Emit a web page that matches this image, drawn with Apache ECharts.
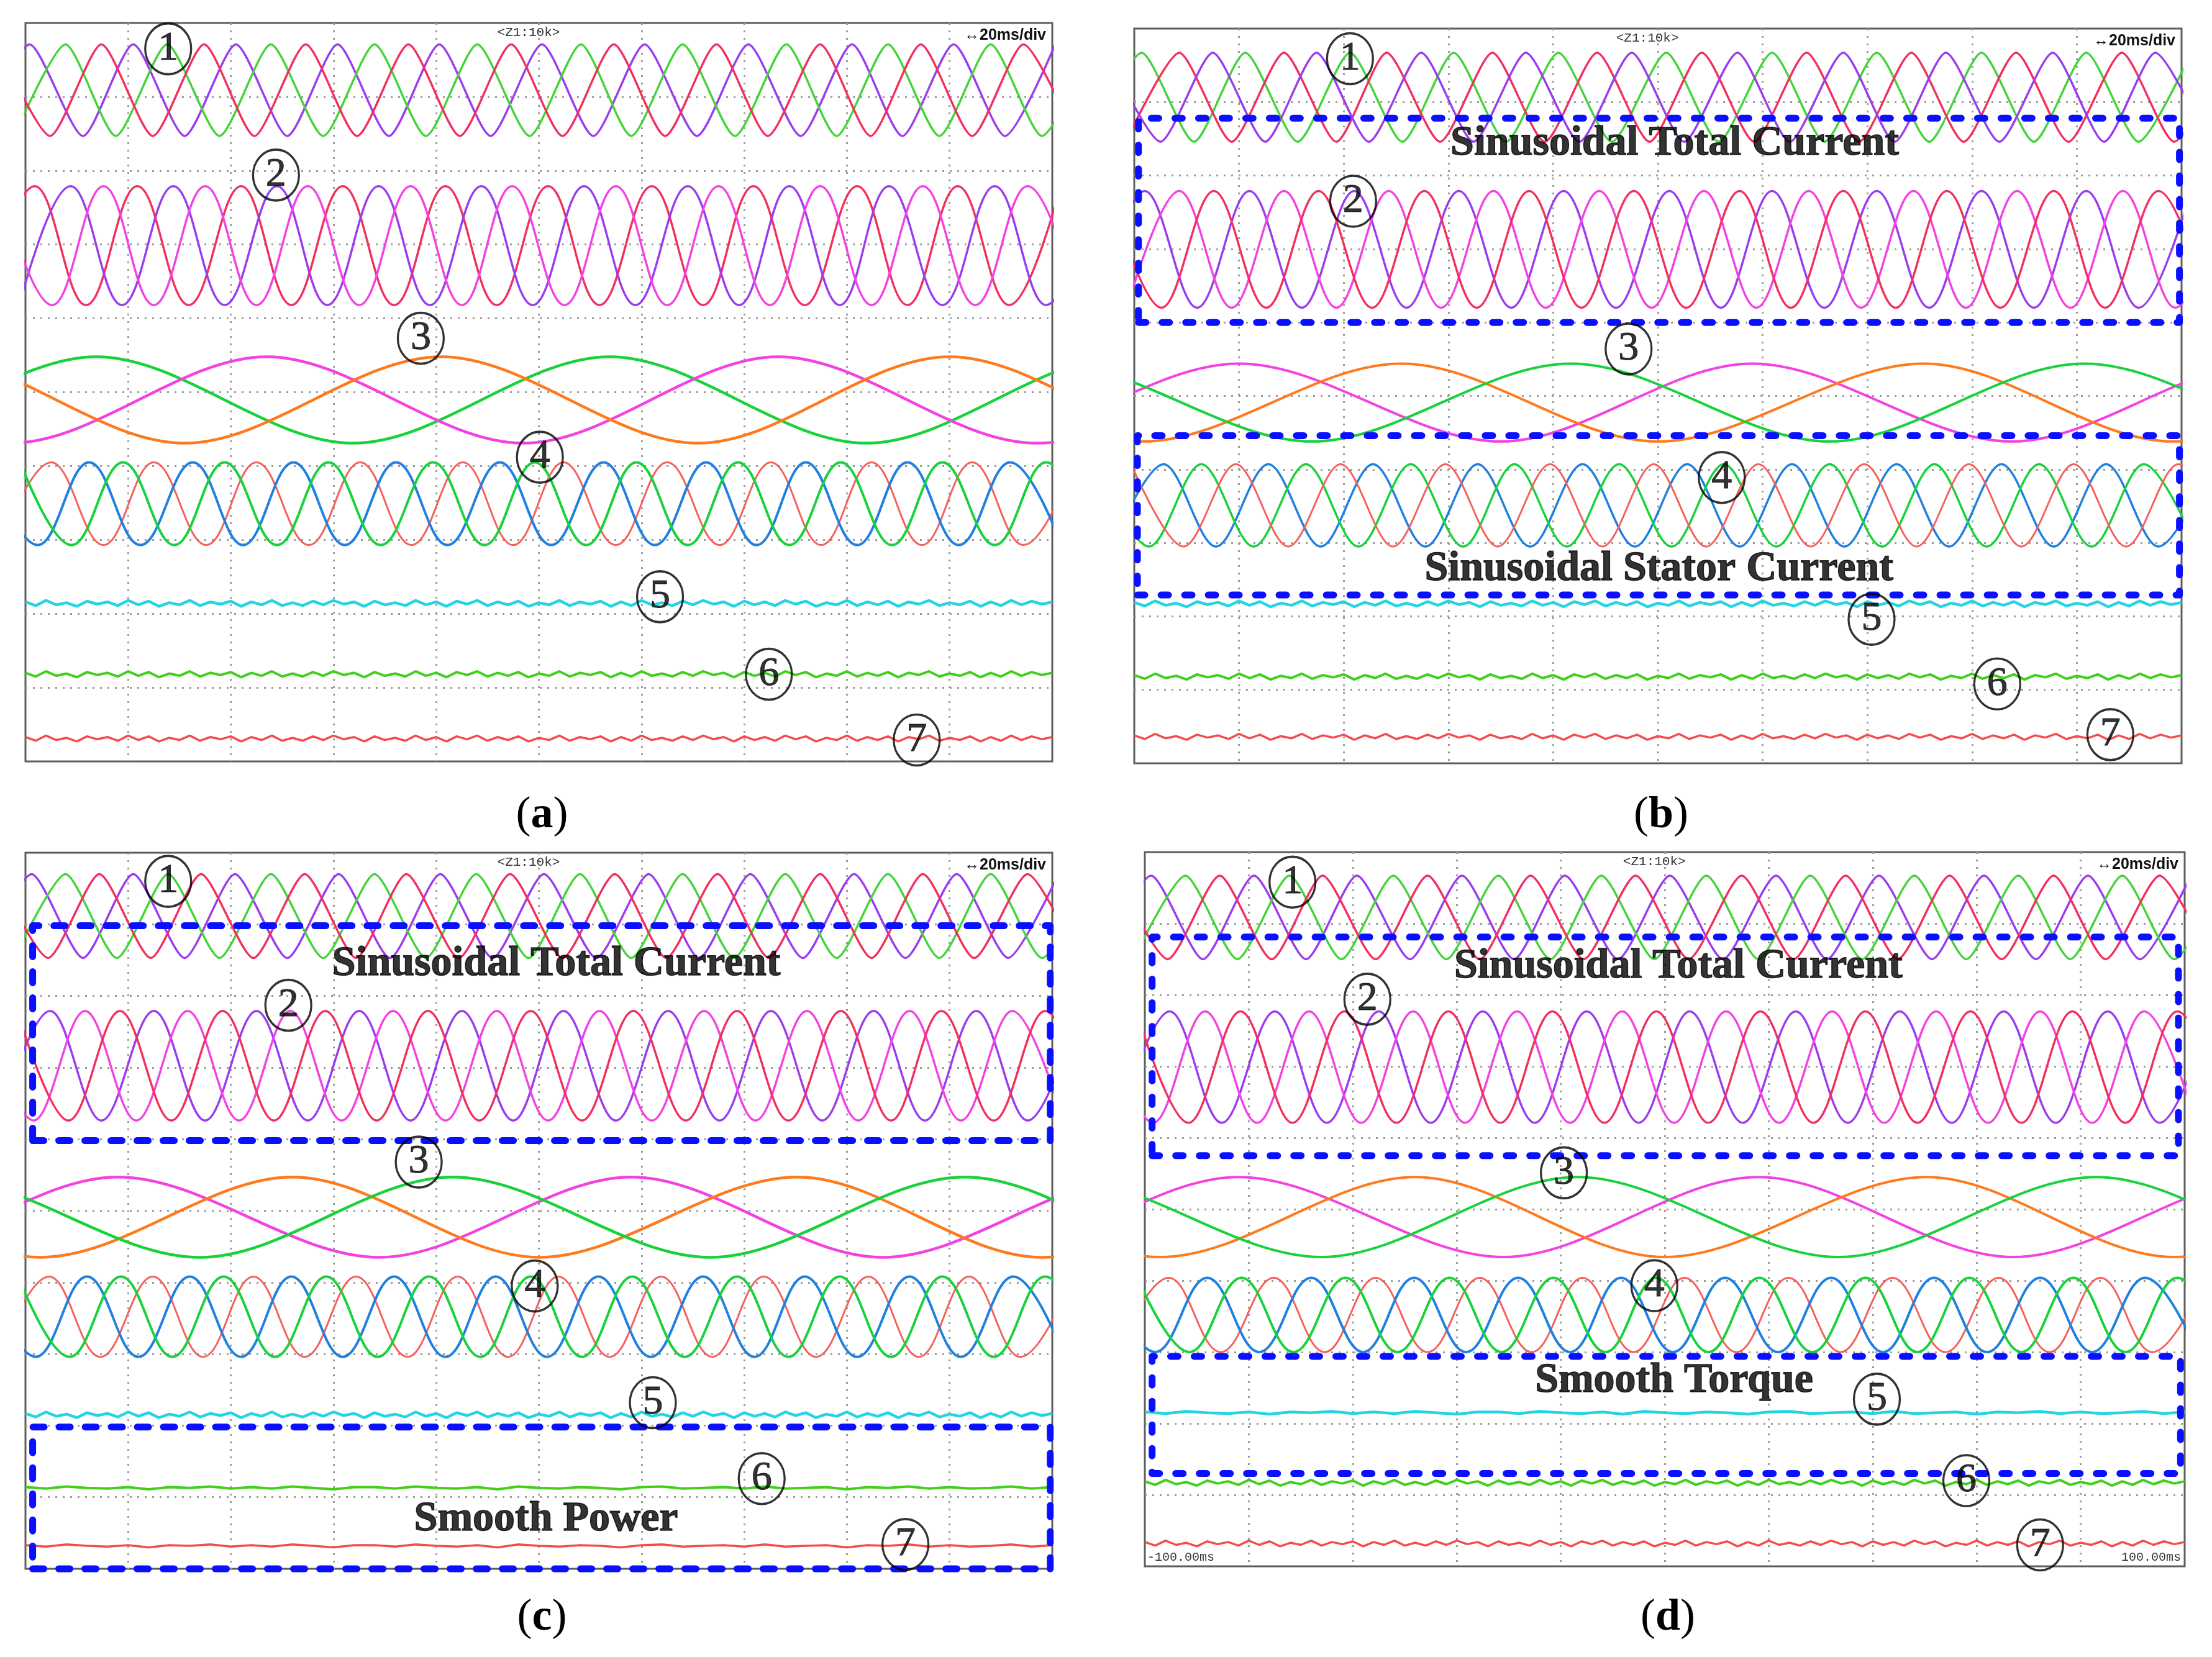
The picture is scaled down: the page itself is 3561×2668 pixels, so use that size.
<!DOCTYPE html>
<html>
<head>
<meta charset="utf-8">
<script src="https://cdn.jsdelivr.net/npm/echarts@6/dist/echarts.min.js"></script>
<style>
html, body { margin: 0; padding: 0; background: #fff; }
#chart { width: 3561px; height: 2668px; }
</style>
</head>
<body>
<div id="chart"></div>
<script>
// all times in divisions (20 ms/div, 10 div), levels in divisions (0 = bottom, 10 = top)
// each phase: times of its maxima (Hi) and minima (Lo)

// ---------- panel (a) ----------
const aHiLo = [[9.71, 8.47], [7.79, 6.18], [5.48, 4.31], [4.05, 2.93]]
const aFlat = [2.14, 1.18, 0.31]
const aW1PurpleHi = [0.04, 1.05, 2.05, 3.04, 4.03, 5.03, 6.03, 7.04, 8.05, 9.04, 10.03]
const aW1PurpleLo = [-0.46, 0.56, 1.55, 2.55, 3.54, 4.53, 5.53, 6.54, 7.55, 8.54, 9.54]
const aW1GreenHi = [0.39, 1.38, 2.39, 3.40, 4.40, 5.41, 6.40, 7.41, 8.40, 9.40, 10.40]
const aW1GreenLo = [-0.11, 0.88, 1.89, 2.90, 3.90, 4.91, 5.90, 6.91, 7.90, 8.90, 9.90]
const aW1RedHi = [-0.27, 0.74, 1.74, 2.73, 3.73, 4.73, 5.73, 6.73, 7.74, 8.72, 9.72]
const aW1RedLo = [0.24, 1.24, 2.23, 3.23, 4.23, 5.23, 6.23, 7.23, 8.23, 9.22, 10.22]
const aW2RedHi = [0.09, 1.09, 2.10, 3.09, 4.09, 5.09, 6.10, 7.09, 8.10, 9.08, 10.08]
const aW2RedLo = [-0.41, 0.59, 1.59, 2.59, 3.59, 4.59, 5.59, 6.60, 7.59, 8.59, 9.58]
const aW2PurpleHi = [0.44, 1.44, 2.45, 3.44, 4.44, 5.44, 6.45, 7.44, 8.41, 9.44, 10.44]
const aW2PurpleLo = [-0.06, 0.94, 1.94, 2.94, 3.94, 4.94, 5.94, 6.95, 7.93, 8.93, 9.94]
const aW2MagentaHi = [-0.25, 0.76, 1.75, 2.75, 3.75, 4.74, 5.75, 6.75, 7.74, 8.74, 9.76]
const aW2MagentaLo = [0.26, 1.25, 2.25, 3.25, 4.25, 5.25, 6.25, 7.25, 8.24, 9.25, 10.26]
const aW3GreenHi = [-4.31, 0.69, 5.69, 10.69]
const aW3GreenLo = [-1.81, 3.19, 8.19, 13.19]
const aW3MagentaHi = [-2.65, 2.35, 7.33, 12.35]
const aW3MagentaLo = [-5.15, -0.15, 4.85, 9.85]
const aW3OrangeHi = [-0.95, 4.05, 9.0, 14.0]
const aW3OrangeLo = [-3.45, 1.55, 6.55, 11.5]
const aW4RedHi = [0.25, 1.25, 2.25, 3.26, 4.26, 5.24, 6.25, 7.26, 8.24, 9.22, 10.22]
const aW4RedLo = [-0.25, 0.76, 1.76, 2.76, 3.76, 4.75, 5.75, 6.76, 7.75, 8.73, 9.72]
const aW4BlueHi = [-0.38, 0.62, 1.63, 2.61, 3.61, 4.62, 5.63, 6.63, 7.6, 8.59, 9.59]
const aW4BlueLo = [0.12, 1.12, 2.12, 3.11, 4.11, 5.12, 6.13, 7.12, 8.1, 9.09, 10.09]
const aW4GreenHi = [-0.05, 0.95, 1.94, 2.95, 3.97, 4.96, 5.95, 6.94, 7.94, 8.93, 9.94]
const aW4GreenLo = [0.45, 1.45, 2.45, 3.46, 4.47, 5.46, 6.45, 7.44, 8.44, 9.44, 10.44]
const aMarks = [[1.39, 9.65], [2.44, 7.94], [3.85, 5.73], [5.01, 4.12], [6.18, 2.23], [7.24, 1.18], [8.68, 0.29]]

// ---------- panel (b) ----------
const bHiLo = [[9.67, 8.46], [7.79, 6.20], [5.44, 4.38], [4.07, 2.95]]
const bFlat = [2.17, 1.18, 0.36]
const bW1GreenHi = [0.07, 1.06, 2.06, 3.05, 4.05, 5.08, 6.09, 7.09, 8.09, 9.09, 10.09]
const bW1GreenLo = [-0.43, 0.57, 1.56, 2.56, 3.55, 4.56, 5.58, 6.59, 7.59, 8.59, 9.59]
const bW1RedHi = [0.43, 1.43, 2.41, 3.42, 4.42, 5.42, 6.42, 7.42, 8.42, 9.43, 10.43]
const bW1RedLo = [-0.08, 0.93, 1.93, 2.92, 3.92, 4.92, 5.92, 6.92, 7.92, 8.92, 9.93]
const bW1PurpleHi = [-0.26, 0.75, 1.74, 2.74, 3.74, 4.75, 5.76, 6.77, 7.75, 8.77, 9.75]
const bW1PurpleLo = [0.25, 1.25, 2.24, 3.24, 4.25, 5.25, 6.26, 7.26, 8.26, 9.26, 10.25]
const bW2PurpleHi = [0.10, 1.10, 2.10, 3.10, 4.10, 5.11, 6.09, 7.09, 8.09, 9.09, 10.09]
const bW2PurpleLo = [-0.40, 0.60, 1.60, 2.60, 3.60, 4.60, 5.60, 6.59, 7.59, 8.59, 9.59]
const bW2MagentaHi = [0.43, 1.43, 2.43, 3.43, 4.44, 5.44, 6.44, 7.44, 8.43, 9.44, 10.44]
const bW2MagentaLo = [-0.07, 0.93, 1.93, 2.93, 3.93, 4.94, 5.94, 6.94, 7.94, 8.94, 9.94]
const bW2RedHi = [-0.24, 0.76, 1.76, 2.77, 3.77, 4.77, 5.78, 6.77, 7.76, 8.78, 9.78]
const bW2RedLo = [0.26, 1.26, 2.27, 3.27, 4.27, 5.27, 6.27, 7.27, 8.27, 9.27, 10.27]
const bW3MagentaHi = [-3.9, 1.0, 5.9, 10.8]
const bW3MagentaLo = [-1.45, 3.5, 8.38, 13.3]
const bW3OrangeHi = [-2.42, 2.55, 7.54, 12.45]
const bW3OrangeLo = [-4.9, 0.08, 5.0, 9.92]
const bW3GreenHi = [-0.8, 4.17, 9.07, 14.0]
const bW3GreenLo = [-3.3, 1.7, 6.64, 11.55]
const bW4BlueHi = [0.28, 1.28, 2.28, 3.28, 4.28, 5.28, 6.28, 7.28, 8.28, 9.28, 10.28]
const bW4BlueLo = [-0.22, 0.78, 1.78, 2.78, 3.78, 4.78, 5.78, 6.78, 7.78, 8.78, 9.78]
const bW4GreenHi = [-0.36, 0.64, 1.64, 2.64, 3.63, 4.63, 5.63, 6.64, 7.64, 8.64, 9.64]
const bW4GreenLo = [0.14, 1.14, 2.14, 3.14, 4.13, 5.13, 6.13, 7.14, 8.14, 9.14, 10.14]
const bW4RedHi = [-0.03, 0.97, 1.97, 2.97, 3.97, 4.96, 5.96, 6.97, 7.97, 8.97, 9.97]
const bW4RedLo = [0.47, 1.47, 2.47, 3.47, 4.47, 5.46, 6.46, 7.47, 8.47, 9.47, 10.47]
const bMarks = [[2.06, 9.59], [2.09, 7.65], [4.72, 5.64], [5.61, 3.89], [7.04, 1.96], [8.24, 1.08], [9.32, 0.39]]
const bBoxes = [[0.04, 9.98, 6.0, 8.78], [0.03, 9.98, 2.29, 4.46]]
const bNotes = ['Sinusoidal Total Current', 'Sinusoidal Stator Current']
const bNotePos = [[5.16, 8.43], [5.01, 2.64]]

// ---------- panel (c) ----------
const cHiLo = [[9.70, 8.53], [7.79, 6.26], [5.47, 4.35], [4.08, 2.96]]
const cFlat = [2.15, 1.13, 0.32]
const cW1PurpleHi = [0.06, 1.05, 2.04, 3.05, 4.04, 5.05, 6.07, 7.06, 8.07, 9.07, 10.06]
const cW1PurpleLo = [-0.44, 0.56, 1.55, 2.55, 3.55, 4.55, 5.56, 6.56, 7.57, 8.57, 9.57]
const cW1GreenHi = [0.39, 1.39, 2.39, 3.40, 4.39, 5.40, 6.40, 7.40, 8.40, 9.40, 10.40]
const cW1GreenLo = [-0.11, 0.89, 1.89, 2.90, 3.90, 4.90, 5.90, 6.90, 7.90, 8.90, 9.90]
const cW1RedHi = [-0.28, 0.72, 1.71, 2.72, 3.71, 4.72, 5.74, 6.74, 7.74, 8.74, 9.76]
const cW1RedLo = [0.22, 1.22, 2.22, 3.22, 4.22, 5.23, 6.24, 7.24, 8.24, 9.24, 10.25]
const cW2PurpleHi = [0.24, 1.25, 2.25, 3.25, 4.25, 5.24, 6.26, 7.26, 8.26, 9.26, 10.26]
const cW2PurpleLo = [-0.26, 0.74, 1.75, 2.75, 3.75, 4.75, 5.75, 6.76, 7.76, 8.76, 9.76]
const cW2MagentaHi = [-0.42, 0.58, 1.58, 2.58, 3.58, 4.59, 5.59, 6.61, 7.61, 8.61, 9.61]
const cW2MagentaLo = [0.08, 1.08, 2.08, 3.08, 4.09, 5.09, 6.10, 7.11, 8.11, 9.11, 10.11]
const cW2RedHi = [-0.08, 0.92, 1.92, 2.92, 3.92, 4.92, 5.92, 6.93, 7.94, 8.92, 9.93]
const cW2RedLo = [0.42, 1.42, 2.42, 3.42, 4.42, 5.42, 6.43, 7.43, 8.43, 9.43, 10.43]
const cW3MagentaHi = [-4.0, 0.9, 5.9, 10.85]
const cW3MagentaLo = [-1.55, 3.45, 8.35, 13.3]
const cW3OrangeHi = [-2.4, 2.6, 7.52, 12.4]
const cW3OrangeLo = [-4.9, 0.15, 5.0, 9.9]
const cW3GreenHi = [-0.85, 4.16, 9.15, 14.1]
const cW3GreenLo = [-3.35, 1.7, 6.67, 11.6]
const cW4RedHi = [0.23, 1.24, 2.22, 3.22, 4.21, 5.19, 6.19, 7.19, 8.21, 9.19, 10.2]
const cW4RedLo = [-0.27, 0.73, 1.73, 2.72, 3.72, 4.7, 5.69, 6.69, 7.7, 8.7, 9.69]
const cW4BlueHi = [-0.4, 0.6, 1.6, 2.59, 3.59, 4.58, 5.58, 6.6, 7.59, 8.61, 9.62]
const cW4BlueLo = [0.1, 1.1, 2.1, 3.09, 4.09, 5.08, 6.09, 7.1, 8.1, 9.11, 10.12]
const cW4GreenHi = [-0.07, 0.93, 1.93, 2.93, 3.93, 4.92, 5.91, 6.93, 7.93, 8.93, 9.93]
const cW4GreenLo = [0.43, 1.43, 2.43, 3.43, 4.43, 5.42, 6.42, 7.43, 8.43, 9.43, 10.43]
const cMarks = [[1.39, 9.60], [2.56, 7.87], [3.83, 5.68], [4.96, 3.95], [6.11, 2.32], [7.17, 1.26], [8.57, 0.34]]
const cBoxes = [[0.07, 9.98, 5.98, 8.98], [0.07, 9.98, 0.0, 1.98]]
const cNotes = ['Sinusoidal Total Current', 'Smooth Power']
const cNotePos = [[5.17, 8.44], [5.07, 0.69]]

// ---------- panel (d) : phases read the same as (c) ----------
const dHiLo = [[9.67, 8.50], [7.77, 6.21], [5.45, 4.33], [4.04, 3.0]]
const dFlat = [2.15, 1.17, 0.32]
const dMarks = [[1.42, 9.58], [2.14, 7.94], [4.03, 5.51], [4.90, 3.93], [7.04, 2.34], [7.90, 1.20], [8.61, 0.30]]
const dBoxes = [[0.07, 9.94, 5.75, 8.81], [0.07, 9.96, 1.30, 2.94]]
const dNotes = ['Sinusoidal Total Current', 'Smooth Torque']
const dNotePos = [[5.13, 8.40], [5.09, 2.60]]

// ripple on the dc traces (5)(6)(7), offsets in div
const rippleA = [0.02, -0.03, 0.04, -0.02, 0.01, -0.04, 0.03, -0.01, 0.02, -0.03,
  0.04, -0.02, 0.03, -0.04, 0.01, -0.02, 0.04, -0.03, 0.02, -0.01,
  0.03, -0.04, 0.02, -0.02, 0.04, -0.03, 0.01, -0.03, 0.03, -0.02,
  0.04, -0.01, 0.02, -0.04, 0.03, -0.02, 0.01, -0.03, 0.04, -0.02,
  0.02, -0.04, 0.03, -0.01, 0.04, -0.03, 0.02, -0.02, 0.03, -0.04,
  0.01, -0.02, 0.04, -0.03, 0.02, -0.01, 0.03, -0.04, 0.02, -0.03,
  0.04, -0.02, 0.01, -0.03, 0.03, -0.02, 0.04, -0.01, 0.02, -0.04,
  0.03, -0.02, 0.02, -0.03, 0.04, -0.01, 0.03, -0.04, 0.01, -0.02,
  0.04, -0.03, 0.02, -0.02, 0.03, -0.04, 0.02, -0.01, 0.04, -0.03,
  0.01, -0.02, 0.03, -0.04, 0.02, -0.03, 0.04, -0.02, 0.03, -0.01, 0.02]
const rippleB = [0.01, -0.01, 0.02, 0.0, -0.01, 0.01, -0.02, 0.01, 0.0, 0.02,
  -0.01, 0.01, -0.01, 0.02, 0.0, -0.02, 0.01, 0.01, -0.01, 0.02,
  0.0, -0.01, 0.01, -0.02, 0.02, 0.0, -0.01, 0.01, 0.0, -0.02,
  0.01, 0.02, -0.01, 0.0, 0.01, -0.01, 0.02, -0.01, 0.0, 0.01,
  -0.02, 0.01, 0.0, 0.02, -0.01, 0.01, -0.01, 0.0, 0.02, -0.01, 0.01]
const rippleAStep = 0.1
const rippleBStep = 0.2

const panelLetters = ['a', 'b', 'c', 'd']

// trace colours
const PURPLE = '#9a3cef'
const PINKRED = '#f2305f'
const LIME = '#44d43a'
const MAGENTA = '#f342e2'
const ORANGE = '#ff7a1c'
const GREEN = '#18d23b'
const SALMON = '#f5605d'
const BLUE = '#1f80e0'
const CYAN = '#22d4e4'
const DCGREEN = '#3fd01c'
const DCRED = '#f44c4c'
const BOXBLUE = '#0a10ff'

const panels = [
  {
    frame: [41, 37, 1653, 1189],
    hilo: aHiLo,
    groups: [
      { smooth: 0.22, width: 3.5, phases: [[aW1PurpleHi, aW1PurpleLo, PURPLE], [aW1GreenHi, aW1GreenLo, LIME], [aW1RedHi, aW1RedLo, PINKRED]] },
      { smooth: 0.4, width: 3.5, phases: [[aW2RedHi, aW2RedLo, PINKRED], [aW2PurpleHi, aW2PurpleLo, PURPLE], [aW2MagentaHi, aW2MagentaLo, MAGENTA]] },
      { smooth: 0.33, width: 4.5, phases: [[aW3GreenHi, aW3GreenLo, GREEN], [aW3MagentaHi, aW3MagentaLo, MAGENTA], [aW3OrangeHi, aW3OrangeLo, ORANGE]] },
      { smooth: 0.4, width: 4, phases: [[aW4RedHi, aW4RedLo, SALMON, 3], [aW4BlueHi, aW4BlueLo, BLUE], [aW4GreenHi, aW4GreenLo, GREEN]] }
    ],
    flat: aFlat,
    ripples: [rippleA, rippleA, rippleA],
    marks: aMarks,
    boxes: [], dash: [18, 24], notes: [], notePos: []
  },
  {
    frame: [1826, 46, 1686, 1183],
    hilo: bHiLo,
    groups: [
      { smooth: 0.22, width: 3.5, phases: [[bW1GreenHi, bW1GreenLo, LIME], [bW1RedHi, bW1RedLo, PINKRED], [bW1PurpleHi, bW1PurpleLo, PURPLE]] },
      { smooth: 0.36, width: 3.5, phases: [[bW2PurpleHi, bW2PurpleLo, PURPLE], [bW2MagentaHi, bW2MagentaLo, MAGENTA], [bW2RedHi, bW2RedLo, PINKRED]] },
      { smooth: 0.33, width: 4, phases: [[bW3MagentaHi, bW3MagentaLo, MAGENTA], [bW3OrangeHi, bW3OrangeLo, ORANGE], [bW3GreenHi, bW3GreenLo, GREEN]] },
      { smooth: 0.33, width: 3.5, phases: [[bW4BlueHi, bW4BlueLo, BLUE], [bW4GreenHi, bW4GreenLo, GREEN], [bW4RedHi, bW4RedLo, SALMON, 3]] }
    ],
    flat: bFlat,
    ripples: [rippleA, rippleA, rippleA],
    marks: bMarks,
    boxes: bBoxes, dash: [12, 26], notes: bNotes, notePos: bNotePos
  },
  {
    frame: [41, 1373, 1653, 1153],
    hilo: cHiLo,
    groups: [
      { smooth: 0.22, width: 3.5, phases: [[cW1PurpleHi, cW1PurpleLo, PURPLE], [cW1GreenHi, cW1GreenLo, LIME], [cW1RedHi, cW1RedLo, PINKRED]] },
      { smooth: 0.36, width: 3.5, phases: [[cW2PurpleHi, cW2PurpleLo, PURPLE], [cW2MagentaHi, cW2MagentaLo, MAGENTA], [cW2RedHi, cW2RedLo, PINKRED]] },
      { smooth: 0.33, width: 4.5, phases: [[cW3MagentaHi, cW3MagentaLo, MAGENTA], [cW3OrangeHi, cW3OrangeLo, ORANGE], [cW3GreenHi, cW3GreenLo, GREEN]] },
      { smooth: 0.4, width: 4, phases: [[cW4RedHi, cW4RedLo, SALMON, 3], [cW4BlueHi, cW4BlueLo, BLUE], [cW4GreenHi, cW4GreenLo, GREEN]] }
    ],
    flat: cFlat,
    ripples: [rippleA, rippleB, rippleB],
    marks: cMarks,
    boxes: cBoxes, dash: [18, 24], notes: cNotes, notePos: cNotePos
  },
  {
    frame: [1843, 1372, 1674, 1150],
    hilo: dHiLo,
    groups: [
      { smooth: 0.22, width: 3.5, phases: [[cW1PurpleHi, cW1PurpleLo, PURPLE], [cW1GreenHi, cW1GreenLo, LIME], [cW1RedHi, cW1RedLo, PINKRED]] },
      { smooth: 0.36, width: 3.5, phases: [[cW2PurpleHi, cW2PurpleLo, PURPLE], [cW2MagentaHi, cW2MagentaLo, MAGENTA], [cW2RedHi, cW2RedLo, PINKRED]] },
      { smooth: 0.33, width: 4, phases: [[cW3MagentaHi, cW3MagentaLo, MAGENTA], [cW3OrangeHi, cW3OrangeLo, ORANGE], [cW3GreenHi, cW3GreenLo, GREEN]] },
      { smooth: 0.4, width: 4, phases: [[cW4RedHi, cW4RedLo, SALMON, 3], [cW4BlueHi, cW4BlueLo, BLUE], [cW4GreenHi, cW4GreenLo, GREEN]] }
    ],
    flat: dFlat,
    ripples: [rippleB, rippleA, rippleA],
    marks: dMarks,
    boxes: dBoxes, dash: [12, 26], notes: dNotes, notePos: dNotePos
  }
]

const flatColors = [CYAN, DCGREEN, DCRED]
const flatWidths = [4.5, 4, 3.5]

function phaseData (hiT, loT, hi, lo) {
  return hiT.map(t => [t, hi]).concat(loT.map(t => [t, lo])).sort((p, q) => p[0] - q[0])
}

function flatData (level, ripple) {
  const step = ripple === rippleA ? rippleAStep : rippleBStep
  return ripple.map((r, i) => [i * step, level + r])
}

const grids = []
const xAxes = []
const yAxes = []
const series = []
const graphics = []

panels.forEach((p, i) => {
  const [left, top, width, height] = p.frame
  grids.push({ left, top, width, height, show: true, backgroundColor: '#fff', borderColor: '#5e5e5e', borderWidth: 3 })
  const split = { show: true, showMinLine: false, showMaxLine: false, lineStyle: { color: '#9c9c9c', width: 3, type: [3, 9] } }
  xAxes.push({ gridIndex: i, type: 'value', min: 0, max: 10, interval: 1, axisLine: { show: false }, axisTick: { show: false }, axisLabel: { show: false }, splitLine: split })
  yAxes.push({ gridIndex: i, type: 'value', min: 0, max: 10, interval: 1, axisLine: { show: false }, axisTick: { show: false }, axisLabel: { show: false }, splitLine: split })

  // three-phase traces (1)-(4)
  p.groups.forEach((g, gi) => {
    g.phases.forEach(ph => {
      series.push({
        type: 'line', xAxisIndex: i, yAxisIndex: i, silent: true, z: 2,
        data: phaseData(ph[0], ph[1], p.hilo[gi][0], p.hilo[gi][1]),
        smooth: g.smooth, showSymbol: false, symbol: 'none',
        lineStyle: { color: ph[2], width: ph[3] || g.width }
      })
    })
  })

  // dc traces (5)-(7)
  p.flat.forEach((lv, k) => {
    series.push({
      type: 'line', xAxisIndex: i, yAxisIndex: i, silent: true, z: 2,
      data: flatData(lv, p.ripples[k]),
      showSymbol: false, symbol: 'none',
      lineStyle: { color: flatColors[k], width: flatWidths[k] }
    })
  })

  // dashed highlight boxes
  p.boxes.forEach(b => {
    series.push({
      type: 'line', xAxisIndex: i, yAxisIndex: i, silent: true, z: 3, clip: false,
      data: [[b[0], b[2]], [b[1], b[2]], [b[1], b[3]], [b[0], b[3]], [b[0], b[2]]],
      showSymbol: false, symbol: 'none',
      lineStyle: { color: BOXBLUE, width: 11, type: p.dash, cap: 'round', join: 'round' }
    })
  })

  // box captions
  if (p.notes.length) {
    series.push({
      type: 'scatter', xAxisIndex: i, yAxisIndex: i, silent: true, z: 5,
      symbolSize: 1, itemStyle: { color: 'rgba(0,0,0,0)' },
      data: p.notes.map((n, k) => [p.notePos[k][0], p.notePos[k][1], n]),
      label: {
        show: true, position: 'inside', formatter: q => q.value[2],
        fontFamily: 'Liberation Serif', fontWeight: 'bold', fontSize: 68, color: '#000',
        textBorderColor: '#000', textBorderWidth: 1.5
      }
    })
  }

  // circled trace numbers
  series.push({
    type: 'scatter', xAxisIndex: i, yAxisIndex: i, silent: true, z: 4,
    symbol: 'circle', symbolSize: [74, 82],
    itemStyle: { color: 'rgba(0,0,0,0)', borderColor: '#000', borderWidth: 3.5 },
    data: p.marks.map((m, k) => [m[0], m[1], String(k + 1)]),
    label: {
      show: true, position: 'inside', formatter: q => q.value[2],
      fontFamily: 'Liberation Serif', fontSize: 66, color: '#000',
      textBorderColor: '#000', textBorderWidth: 1
    }
  })

  // scope screen texts
  graphics.push({
    type: 'text', silent: true, z: 10,
    style: { text: '<Z1:10k>', x: left + width * 0.49, y: top + 15, fill: '#333', font: '21px "Liberation Mono"', textAlign: 'center', textVerticalAlign: 'middle' }
  })
  graphics.push({
    type: 'text', silent: true, z: 10,
    style: { text: '↔20ms/div', x: left + width - 10, y: top + 20, fill: '#111', font: 'bold 25px "Liberation Sans"', textAlign: 'right', textVerticalAlign: 'middle' }
  })
  if (i === 3) {
    graphics.push({
      type: 'text', silent: true, z: 10,
      style: { text: '-100.00ms', x: left + 4, y: top + height - 14, fill: '#333', font: '20px "Liberation Mono"', textAlign: 'left', textVerticalAlign: 'middle' }
    })
    graphics.push({
      type: 'text', silent: true, z: 10,
      style: { text: '100.00ms', x: left + width - 6, y: top + height - 14, fill: '#333', font: '20px "Liberation Mono"', textAlign: 'right', textVerticalAlign: 'middle' }
    })
  }

  // sub-figure label
  graphics.push({
    type: 'text', silent: true, z: 10,
    style: {
      text: '{n|(}{b|' + panelLetters[i] + '}{n|)}',
      x: left + width / 2 + 5, y: i < 2 ? 1313 : 2605,
      textAlign: 'center', textVerticalAlign: 'middle',
      rich: {
        n: { fontFamily: 'Liberation Serif', fontSize: 72, color: '#000' },
        b: { fontFamily: 'Liberation Serif', fontSize: 72, fontWeight: 'bold', color: '#000' }
      }
    }
  })
})

const chart = echarts.init(document.getElementById('chart'))
chart.setOption({
  animation: false,
  backgroundColor: '#fff',
  grid: grids,
  xAxis: xAxes,
  yAxis: yAxes,
  series: series,
  graphic: { elements: graphics }
})
</script>
</body>
</html>
